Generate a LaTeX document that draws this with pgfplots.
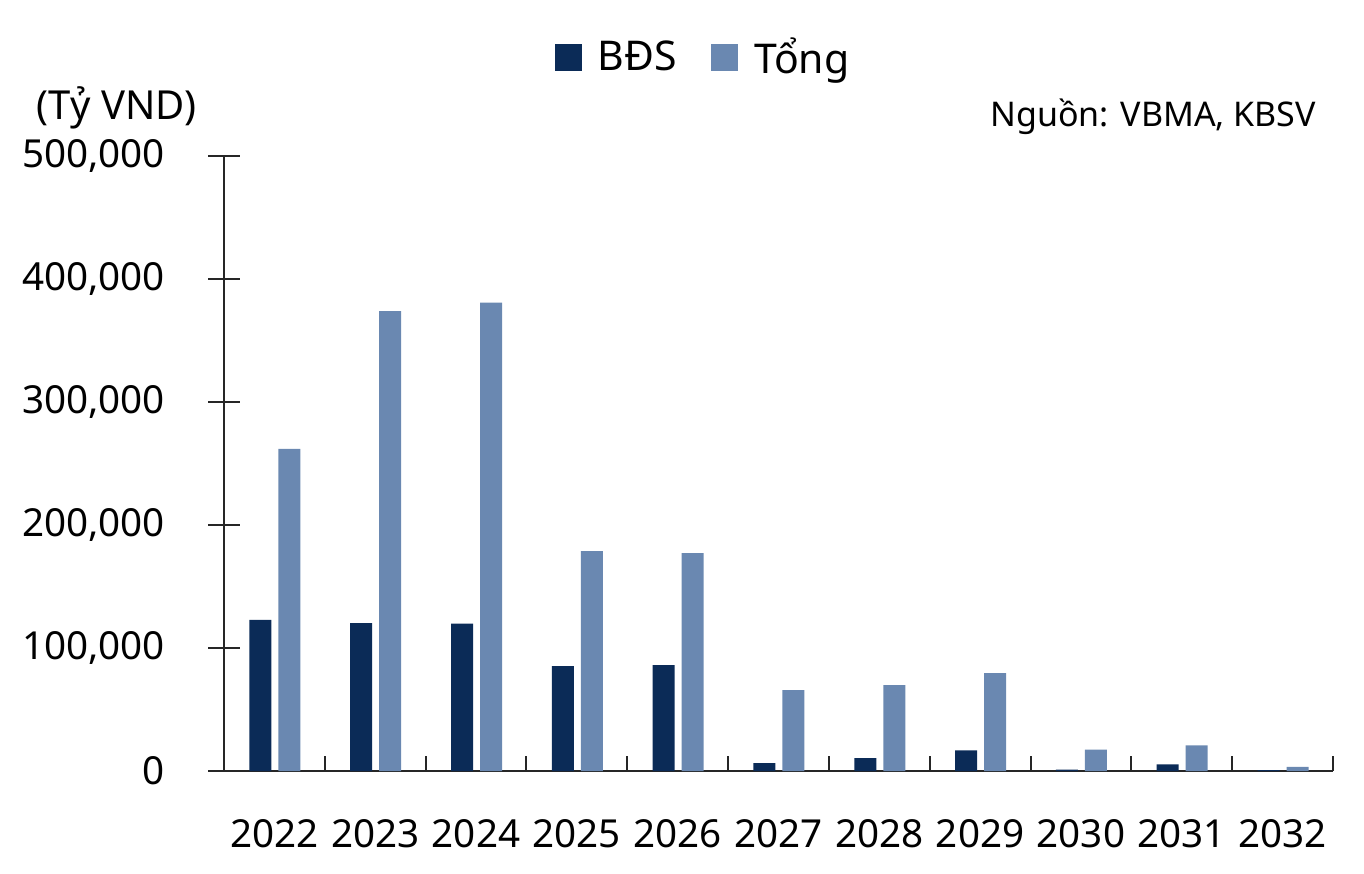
\documentclass[border=0pt]{standalone}
\usepackage{fontspec}
\setmainfont{Noto Sans}
\usepackage{pgfplots}
\pgfplotsset{compat=1.18}
\definecolor{bds}{HTML}{0B2B57}
\definecolor{tong}{HTML}{6A88B1}
\begin{document}
\begin{tikzpicture}
\begin{axis}[
    scale only axis,
    width=554.5pt, height=307.5pt,
    clip=false,
    xmin=-0.5, xmax=10.5,
    ymin=0, ymax=500000,
    axis lines*=left,
    axis line style={line width=1pt, black!85},
    xtick={0,...,10},
    xticklabels={2022,2023,2024,2025,2026,2027,2028,2029,2030,2031,2032},
    minor xtick={-0.5,0.5,...,10.5},
    major x tick style={draw=none},
    minor tick length=7.5pt,
    ytick={0,100000,200000,300000,400000,500000},
    major tick length=16pt,
    tick align=inside,
    ytick style={xshift=-8pt, line width=1pt, black!85},
    minor x tick style={line width=1pt, black!85},
    scaled y ticks=false,
    /pgf/number format/assume math mode=true,
    /pgf/number format/fixed,
    /pgf/number format/1000 sep={,},
    tick label style={font=\fontsize{19.3}{22}\selectfont},
    xticklabel style={yshift=-20.5pt},
    yticklabel style={xshift=-26pt},
    legend style={at={(0.433,1.161)}, anchor=center, draw=none,
        legend columns=2, font=\fontsize{20.5}{24}\selectfont,
        /tikz/every even column/.append style={column sep=15pt}},
]
\addplot[ybar, bar width=11pt, bar shift=-7pt, fill=bds, draw=none,
    legend image code/.code={\fill[bds] (0pt,-6.75pt) rectangle (13.5pt,6.75pt);}]
    coordinates {
    (0,123000)(1,120300)(2,120000)(3,85400)(4,86200)(5,6500)
    (6,10500)(7,17000)(8,1200)(9,5500)(10,800)
    };
\addplot[ybar, bar width=11pt, bar shift=7.5pt, fill=tong, draw=none,
    legend image code/.code={\fill[tong] (0pt,-6.75pt) rectangle (13.5pt,6.75pt);}]
    coordinates {
    (0,262000)(1,374000)(2,381000)(3,178900)(4,177200)(5,65900)
    (6,70000)(7,79700)(8,17500)(9,21000)(10,3500)
    };
\legend{\hspace{6pt}BĐS, \hspace{6pt}Tổng}
\node[anchor=base west, font=\fontsize{20}{24}\selectfont] at (rel axis cs:-0.175,1.060) {(Tỷ VND)};
\node[anchor=base east, font=\fontsize{17}{20}\selectfont] at (rel axis cs:0.991,1.049) {Nguồn: VBMA, KBSV};
\path (rel axis cs:-0.202,-0.166) rectangle (rel axis cs:1.028,1.254);
\end{axis}
\end{tikzpicture}
\end{document}
